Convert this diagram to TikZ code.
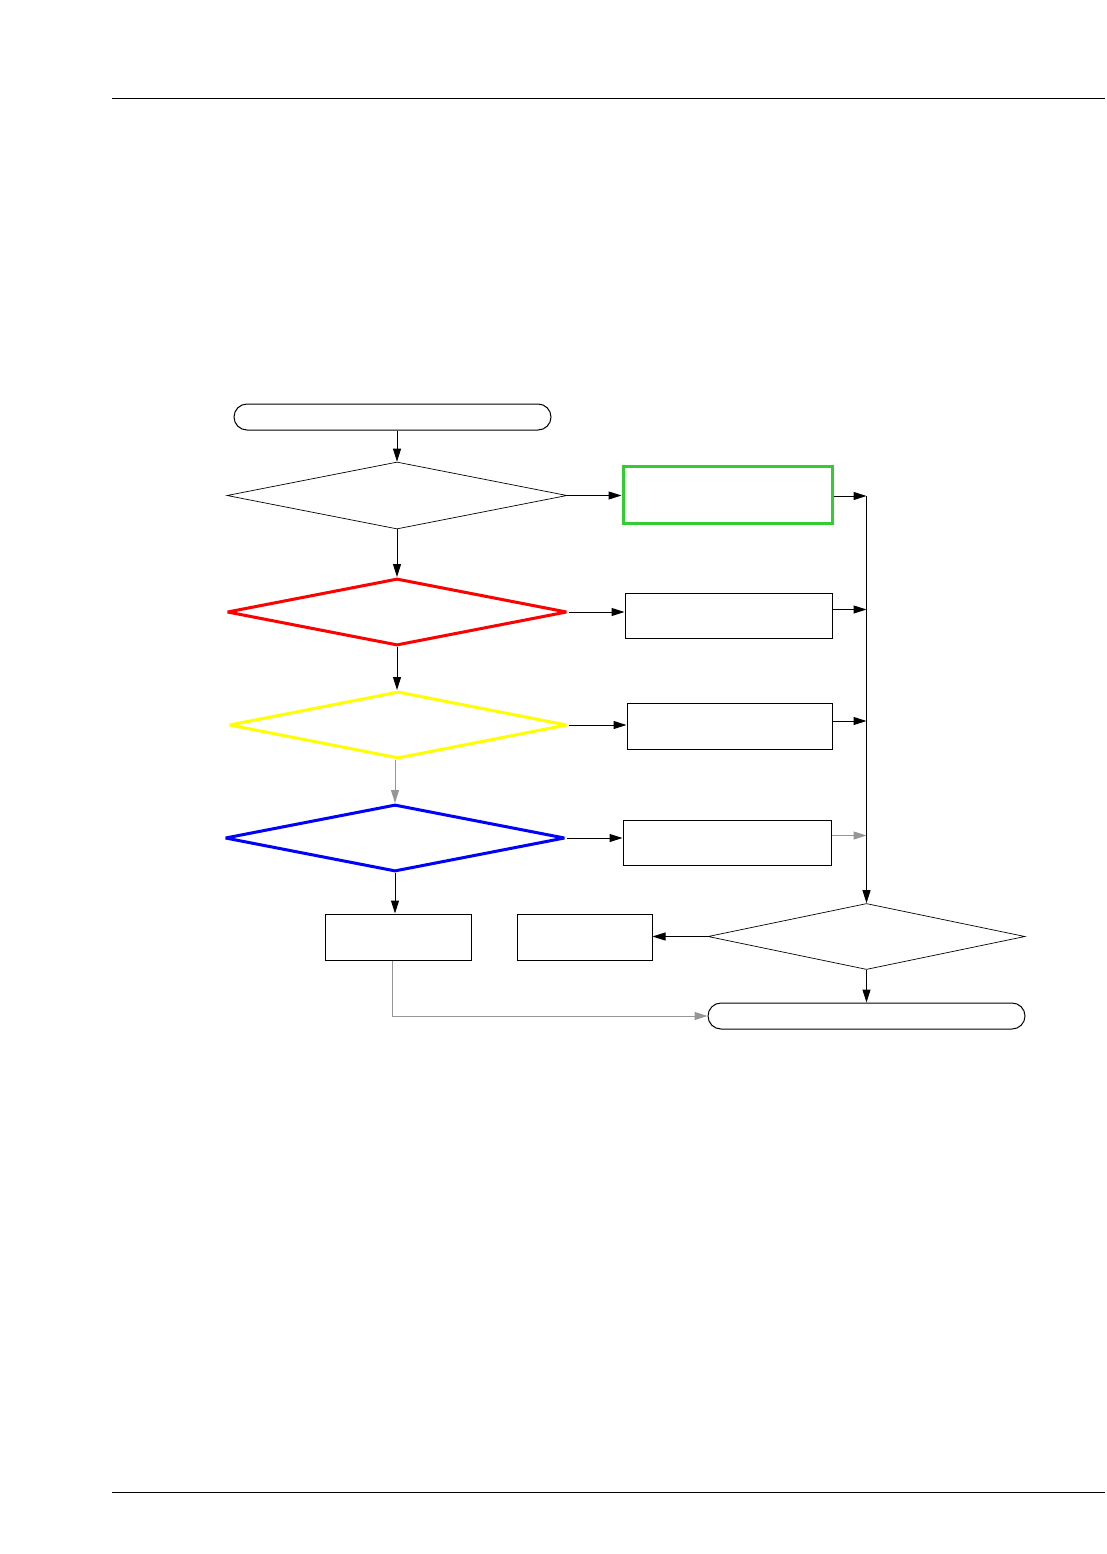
\documentclass[tikz,border=0pt]{standalone}
\usetikzlibrary{arrows.meta,shapes.geometric}

\begin{document}
\begin{tikzpicture}[x=1pt,y=-1pt,>={Triangle[length=13pt,width=8pt]}]

% Colors
\definecolor{okgreen}{RGB}{50,205,50}
\definecolor{errred}{RGB}{255,0,0}
\definecolor{warnyellow}{RGB}{255,255,0}
\definecolor{infoblue}{RGB}{0,0,255}
\definecolor{flowgray}{RGB}{150,150,150}

% Styles
\tikzset{
  terminal/.style={
    rectangle,
    rounded corners=13pt,
    draw=black,
    line width=1pt,
    minimum width=317pt,
    minimum height=26pt,
    inner sep=0pt
  },
  decision/.style={
    diamond,
    draw=black,
    line width=0.7pt,
    minimum width=340pt,
    minimum height=67pt,
    inner sep=0pt
  },
  alert/.style={
    line width=3pt,
    line join=bevel
  },
  action/.style={
    rectangle,
    draw=black,
    line width=1pt,
    minimum width=207pt,
    minimum height=45pt,
    inner sep=0pt
  },
  flow/.style={
    ->,
    line width=1pt,
    draw=black
  }
}

% Page frame
\useasboundingbox (0,0) rectangle (1107,1554);
\coordinate (headL) at (112,99);
\coordinate (headR) at (1105,99);
\coordinate (footL) at (112,1492);
\coordinate (footR) at (1105,1492);
\draw[line width=1pt] (headL) -- (headR);
\draw[line width=1pt] (footL) -- (footR);

% Left column: checks
\node[terminal] (start) at (392.5,417) {};
\node[decision] (d1) at (397,495.5) {};
\node[decision, alert, draw=errred] (d2) at (397,612) {};
\node[decision, alert, draw=warnyellow, minimum width=338pt] (d3) at (398,725) {};
\node[decision, alert, draw=infoblue] (d4) at (395,838) {};
\node[action, minimum width=146pt, minimum height=46pt] (b5) at (398,937) {};

% Right column: actions
\node[action, draw=okgreen, line width=3pt, minimum width=209pt, minimum height=57pt] (b1) at (727.5,494.5) {};
\node[action] (b2) at (728.5,615.5) {};
\node[action, minimum width=205pt, minimum height=46pt] (b3) at (729.5,726) {};
\node[action, minimum width=208pt] (b4) at (727,842.5) {};
\node[action, minimum width=135pt, minimum height=46pt] (b6) at (584.5,937) {};

% Merge
\node[decision, minimum width=317pt, minimum height=66pt] (d5) at (866.5,936.5) {};
\node[terminal] (stop) at (866.5,1016) {};

% Down the checks
\draw[flow] (start.south -| d1.north) -- (d1.north);
\draw[flow] (d1.south) -- (d2.north);
\draw[flow] (d2.south) -- (d2.south |- d3.north);
\draw[flow, draw=flowgray] (d3.south -| d4.north) -- (d4.north);
\draw[flow] (d4.south) -- (d4.south |- b5.north);

% Checks to actions
\draw[flow] (d1.east) -- (d1.east -| b1.west);
\draw[flow] (d2.east) -- (d2.east -| b2.west);
\draw[flow] (d3.east) -- (d3.east -| b3.west);
\draw[flow] (d4.east) -- (d4.east -| b4.west);

% Actions to bus
\draw[flow] ([yshift=-1.5pt]b1.east) -- ([yshift=-1.5pt]b1.east -| d5.north);
\draw[flow] ([yshift=6pt]b2.east) -- ([yshift=6pt]b2.east -| d5.north);
\draw[flow] ([yshift=5pt]b3.east) -- ([yshift=5pt]b3.east -| d5.north);
\draw[flow, draw=flowgray] ([yshift=7pt]b4.east) -- ([yshift=7pt]b4.east -| d5.north);
\draw[flow] ([yshift=-1.5pt]b1.east -| d5.north) -- (d5.north);

% Merge outcomes
\draw[flow] (d5.west) -- (d5.west -| b6.east);
\draw[flow] (d5.south) -- (stop.north);
\draw[flow, draw=flowgray] ([xshift=-6pt]b5.south) |- (stop.west);

\end{tikzpicture}
\end{document}
